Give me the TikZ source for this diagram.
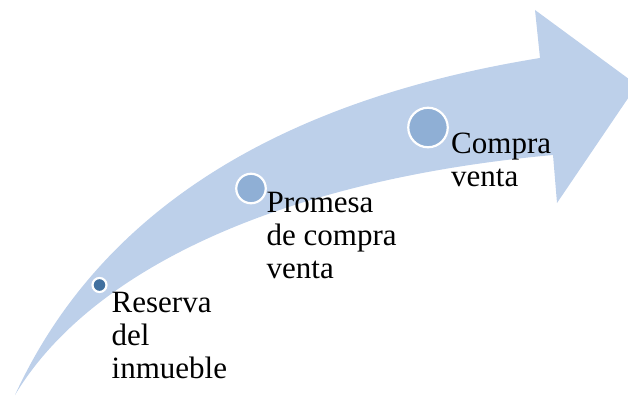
\documentclass[tikz,border=0pt]{standalone}
\usepackage{fontspec}
\setmainfont{Liberation Serif}
\definecolor{flecha}{HTML}{BDD0EA}
\definecolor{hitoosc}{HTML}{41709F}
\definecolor{hitoclaro}{HTML}{8FAFD5}
\begin{document}
\begin{tikzpicture}[x=1pt,y=-1pt,
        hito/.style={circle,draw=white,line width=2.2pt,inner sep=0pt},
        etiqueta/.style={anchor=base west,align=left,inner sep=0pt,font=\fontsize{31}{33}\selectfont}]
            \useasboundingbox (0,0) rectangle (628,396);
            \clip (0,0) rectangle (628,396);
            % flecha curva
            \fill [flecha] (15,395) .. controls (100,210) and (280,100) .. (540,58) -- (535,10) -- (637,85) -- (557,203) -- (553,155) .. controls (280,180) and (90,270) .. (15,395) -- cycle;
            % hitos
            \node [hito,fill=hitoosc,minimum size=14pt] (reserva) at (99.5,285) {};
            \node [hito,fill=hitoclaro,minimum size=29.5pt] (promesa) at (251,188.5) {};
            \node [hito,fill=hitoclaro,minimum size=39.5pt] (compra) at (428,127.5) {};
            % textos (base = ultima linea)
            \node [etiqueta] (treserva) at (111.5,378) {Reserva\\del\\inmueble};
            \node [etiqueta] (tpromesa) at (266.5,278) {Promesa\\de compra\\venta};
            \node [etiqueta] (tcompra) at (451,186) {Compra\\venta};
        \end{tikzpicture}
\end{document}
